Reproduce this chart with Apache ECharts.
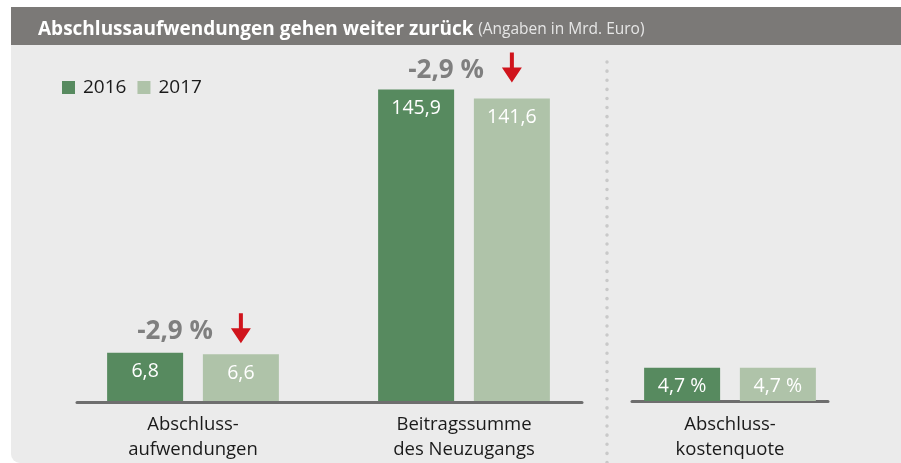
<!DOCTYPE html>
<html>
<head>
<meta charset="utf-8">
<title>Abschlussaufwendungen</title>
<script src="https://cdn.jsdelivr.net/npm/echarts@6/dist/echarts.min.js"></script>
<style>
  body { margin: 0; background: #fff; }
  #chart { width: 901px; height: 463px; }
</style>
</head>
<body>
<div id="chart"></div>
<script>
  // Daten (Mrd. Euro bzw. Prozent)
  const categories = ['Abschluss-\naufwendungen', 'Beitragssumme\ndes Neuzugangs'];
  const quoteCategory = ['Abschluss-\nkostenquote'];
  const values2016 = [6.8, 145.9];
  const values2017 = [6.6, 141.6];
  const quote2016 = [4.7];
  const quote2017 = [4.7];
  const changeLabels = ['-2,9 %', '-2,9 %'];

  const green = '#578a5f';
  const lightGreen = '#afc3a9';
  const font = '"Open Sans", "Noto Sans", sans-serif';

  // deutsches Zahlenformat
  function de(v) {
    return String(v).replace('.', ',');
  }

  const arrow = 'path://M8,0 L12,0 L12,15 L20,15 L10,30 L0,15 L8,15 Z';

  function changeMark(idx, value, offsetY) {
    return {
      coord: [idx, value],
      symbol: arrow,
      symbolSize: [20, 30],
      symbolOffset: [0, offsetY],
      itemStyle: { color: '#d0141c' },
      label: {
        show: true,
        position: 'left',
        distance: 18,
        offset: [0, 3],
        formatter: changeLabels[idx],
        color: '#7f7f7f',
        fontSize: 26,
        fontWeight: 'bold',
        fontFamily: font
      }
    };
  }

  const barLabel = {
    show: true,
    position: 'insideTop',
    distance: 9,
    color: '#fff',
    fontSize: 19.5,
    fontFamily: font,
    formatter: p => de(p.value)
  };
  const quoteLabel = Object.assign({}, barLabel, { formatter: p => de(p.value) + ' %' });

  const chart = echarts.init(document.getElementById('chart'));
  const option = {
    backgroundColor: '#fff',
    animation: false,
    textStyle: { fontFamily: font },
    title: {
      left: 33,
      top: 13,
      text: '{b|Abschlussaufwendungen gehen weiter zurück} {n|(Angaben in Mrd. Euro)}',
      textStyle: {
        fontWeight: 'normal',
        rich: {
          b: { color: '#fff', fontSize: 19, fontWeight: 'bold', fontFamily: font, lineHeight: 24 },
          n: { color: '#e6e6e6', fontSize: 15.5, fontWeight: 'normal', fontFamily: font, lineHeight: 24 }
        }
      }
    },
    graphic: [
      { type: 'rect', z: -10, shape: { x: 11, y: 7, width: 890, height: 456, r: [0, 0, 0, 9] }, style: { fill: '#ebebeb' } },
      { type: 'rect', z: -9, shape: { x: 11, y: 7, width: 890, height: 38 }, style: { fill: '#7b7977' } },
      { type: 'line', z: -8, shape: { x1: 607, y1: 62, x2: 607, y2: 463 },
        style: { stroke: '#c9c9c9', lineWidth: 3.5, lineDash: [0.1, 9], lineCap: 'round' } }
    ],
    legend: {
      left: 57,
      top: 73,
      data: ['2016', '2017'],
      icon: 'rect',
      itemWidth: 13,
      itemHeight: 13,
      itemGap: 11,
      selectedMode: false,
      textStyle: { fontSize: 19, color: '#1a1a1a', fontFamily: font, padding: [0, 0, 0, 3] }
    },
    grid: [
      { left: 57.5, width: 542, top: 61, bottom: 62 },
      { left: 77, width: 505, top: 61, bottom: 60.5 },
      { left: 632, width: 196, top: 61, bottom: 62 }
    ],
    xAxis: [
      {
        type: 'category', gridIndex: 0, data: categories,
        axisLine: { show: false }, axisTick: { show: false },
        axisLabel: { margin: 11, color: '#1a1a1a', fontSize: 18.5, lineHeight: 25, fontFamily: font }
      },
      { type: 'category', gridIndex: 0, data: categories, show: false },
      {
        type: 'category', gridIndex: 1, data: [''],
        axisLine: { lineStyle: { color: '#6e6e6e', width: 3 } },
        axisTick: { show: false }, axisLabel: { show: false }
      },
      {
        type: 'category', gridIndex: 2, data: quoteCategory, offset: 1.5,
        axisLine: { lineStyle: { color: '#6e6e6e', width: 3 } },
        axisTick: { show: false },
        axisLabel: { margin: 9.5, color: '#1a1a1a', fontSize: 18.5, lineHeight: 25, fontFamily: font }
      }
    ],
    yAxis: [
      { type: 'value', gridIndex: 0, min: 0, max: 48, show: false },
      { type: 'value', gridIndex: 0, min: 0, max: 159.2, show: false },
      { type: 'value', gridIndex: 1, min: 0, max: 1, show: false },
      { type: 'value', gridIndex: 2, min: 0, max: 48, show: false }
    ],
    series: [
      {
        name: '2016', type: 'bar', xAxisIndex: 0, yAxisIndex: 0,
        barWidth: 76, barGap: '26%',
        itemStyle: { color: green }, label: barLabel,
        data: [values2016[0], '-']
      },
      {
        name: '2017', type: 'bar', xAxisIndex: 0, yAxisIndex: 0,
        barWidth: 76, barGap: '26%',
        itemStyle: { color: lightGreen }, label: barLabel,
        data: [values2017[0], '-'],
        markPoint: { data: [changeMark(0, values2017[0], -26)] }
      },
      {
        name: '2016', type: 'bar', xAxisIndex: 1, yAxisIndex: 1,
        barWidth: 76, barGap: '26%',
        itemStyle: { color: green }, label: barLabel,
        data: ['-', values2016[1]]
      },
      {
        name: '2017', type: 'bar', xAxisIndex: 1, yAxisIndex: 1,
        barWidth: 76, barGap: '26%',
        itemStyle: { color: lightGreen }, label: barLabel,
        data: ['-', values2017[1]],
        markPoint: { data: [changeMark(1, values2017[1], -31)] }
      },
      {
        name: '2016', type: 'bar', xAxisIndex: 3, yAxisIndex: 3,
        barWidth: 76, barGap: '26%',
        itemStyle: { color: green }, label: quoteLabel,
        data: quote2016
      },
      {
        name: '2017', type: 'bar', xAxisIndex: 3, yAxisIndex: 3,
        barWidth: 76, barGap: '26%',
        itemStyle: { color: lightGreen }, label: quoteLabel,
        data: quote2017
      }
    ]
  };
  chart.setOption(option);
</script>
</body>
</html>
